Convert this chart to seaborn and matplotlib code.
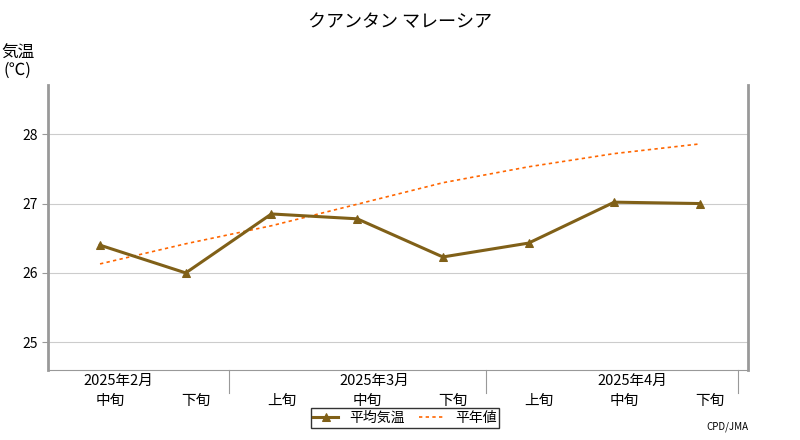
import matplotlib
matplotlib.use("Agg")
import matplotlib.pyplot as plt
import seaborn as sns
import pandas as pd

plt.rcParams["font.family"] = "Noto Sans CJK JP"

periods = ["中旬", "下旬", "上旬", "中旬", "下旬", "上旬", "中旬", "下旬"]
months = ["2025年2月", "2025年3月", "2025年4月"]
mean_temp = [26.40, 26.00, 26.85, 26.78, 26.23, 26.43, 27.02, 27.00]
normal_temp = [26.13, 26.42, 26.68, 26.99, 27.30, 27.53, 27.72, 27.86]
yticks = [25, 26, 27, 28]

df = pd.DataFrame({"x": range(len(periods)), "mean": mean_temp, "normal": normal_temp})

fig = plt.figure(figsize=(8, 4.4), dpi=100)
ax = fig.add_axes([0.06, 0.159, 0.875, 0.648])

sns.lineplot(data=df, x="x", y="normal", ax=ax, color="#ff6600", lw=1.2,
             linestyle=(0, (2, 2)), label="平年値", zorder=2)
sns.lineplot(data=df, x="x", y="mean", ax=ax, color="#806018", lw=2.2,
             marker="^", markersize=6, markeredgecolor="#806018", label="平均気温", zorder=3)

ax.set_xlim(-0.607, 7.56)
ax.set_ylim(24.6, 28.71)
ax.set_yticks(yticks)
ax.set_yticklabels([str(v) for v in yticks], fontsize=10)
ax.grid(axis="y", color="#cccccc", lw=0.8)
ax.set_axisbelow(True)
ax.set_xlabel("")
ax.set_ylabel("")
ax.spines["top"].set_visible(False)
for s in ["left", "right"]:
    ax.spines[s].set_color("#999999")
    ax.spines[s].set_linewidth(2)
ax.spines["bottom"].set_color("#999999")
ax.tick_params(axis="y", length=4, color="#999999")
ax.set_xticks([])

trans = ax.get_xaxis_transform()
for i, p in enumerate(periods):
    ax.text(i + 0.12, -0.085, p, transform=trans, ha="center", va="top", fontsize=10.5)
for xm, m in zip([0.21, 3.2, 6.21], months):
    ax.text(xm, -0.015, m, transform=trans, ha="center", va="top", fontsize=10.5)
for xs in [1.5, 4.5, 7.44]:
    ax.plot([xs, xs], [0, -0.08], transform=trans, color="#999999", lw=0.8, clip_on=False)

fig.text(0.5, 0.95, "クアンタン マレーシア", ha="center", va="center", fontsize=13)
fig.text(0.022, 0.86, "気温\n(℃)", ha="center", va="center", fontsize=12, linespacing=1.0)
fig.text(0.935, 0.03, "CPD/JMA", ha="right", va="center", fontsize=7)

h, l = ax.get_legend_handles_labels()
ax.legend(h[::-1], l[::-1], loc="upper center", bbox_to_anchor=(0.51, -0.11), ncol=2,
          frameon=True, fancybox=False, edgecolor="black", fontsize=10,
          handlelength=1.8, columnspacing=1.0, borderpad=0.2)

fig.savefig("out.png", dpi=100)
